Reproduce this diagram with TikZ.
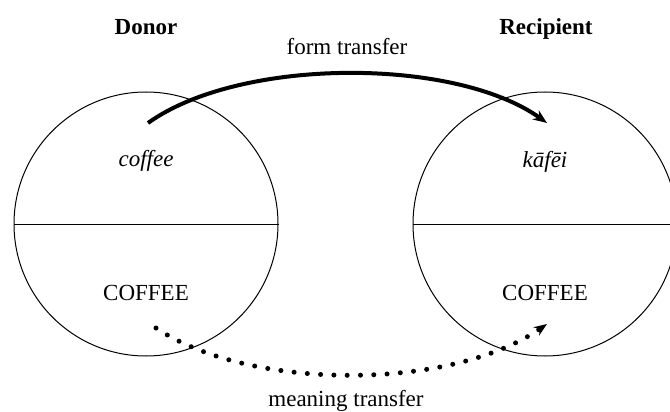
\documentclass[tikz,border=0pt]{standalone}
\usepackage{fontspec}
\setmainfont{Liberation Serif}
\usetikzlibrary{arrows.meta}
\begin{document}
\begin{tikzpicture}[x=1pt,y=-1pt,
  field/.style={circle, draw, line width=1pt, minimum size=264pt, inner sep=0pt},
  txt/.style={anchor=base, inner sep=0pt, font=\fontsize{23}{27}\selectfont},
  head/.style={anchor=base, inner sep=0pt, font=\fontsize{23}{27}\selectfont\bfseries},
  formarrow/.style={line width=4pt, -{Stealth[length=14pt,width=11pt]}},
  meaningarrow/.style={line width=5pt, line cap=round, dash pattern=on 0pt off 13.3pt, -{Stealth[length=13pt,width=10pt]}}
]
\useasboundingbox (0,0) rectangle (670,412);
\clip (0,0) rectangle (670,412);
\fill[white] (0,0) rectangle (670,412);

\node[field] (L) at (146,224) {};
\node[field] (R) at (545,224) {};
\draw[line width=1pt] (L.west) -- (L.east);
\draw[line width=1pt] (R.west) -- (R.east);

\node[head] (donor) at (146,35) {Donor};
\node[head] (recip) at (546,35) {Recipient};
\node[txt] (ft) at (347,55) {form transfer};
\node[txt] (lform) at (146,166) {\itshape coffee};
\node[txt] (rform) at (545,167) {\itshape kāfēi};
\node[txt] (lmean) at (146,300) {COFFEE};
\node[txt] (rmean) at (545,300) {COFFEE};
\node[txt] (mt) at (346,406) {meaning transfer};

\coordinate (fs) at (148,123);
\coordinate (fe) at (547,123);
\coordinate (ms) at (156,328);
\coordinate (me) at (547,324);

\draw[formarrow] (fs) .. controls (240,57) and (455,57) .. (fe);
\draw[meaningarrow] (ms) .. controls (250,391) and (450,391) .. (me);
\end{tikzpicture}
\end{document}
